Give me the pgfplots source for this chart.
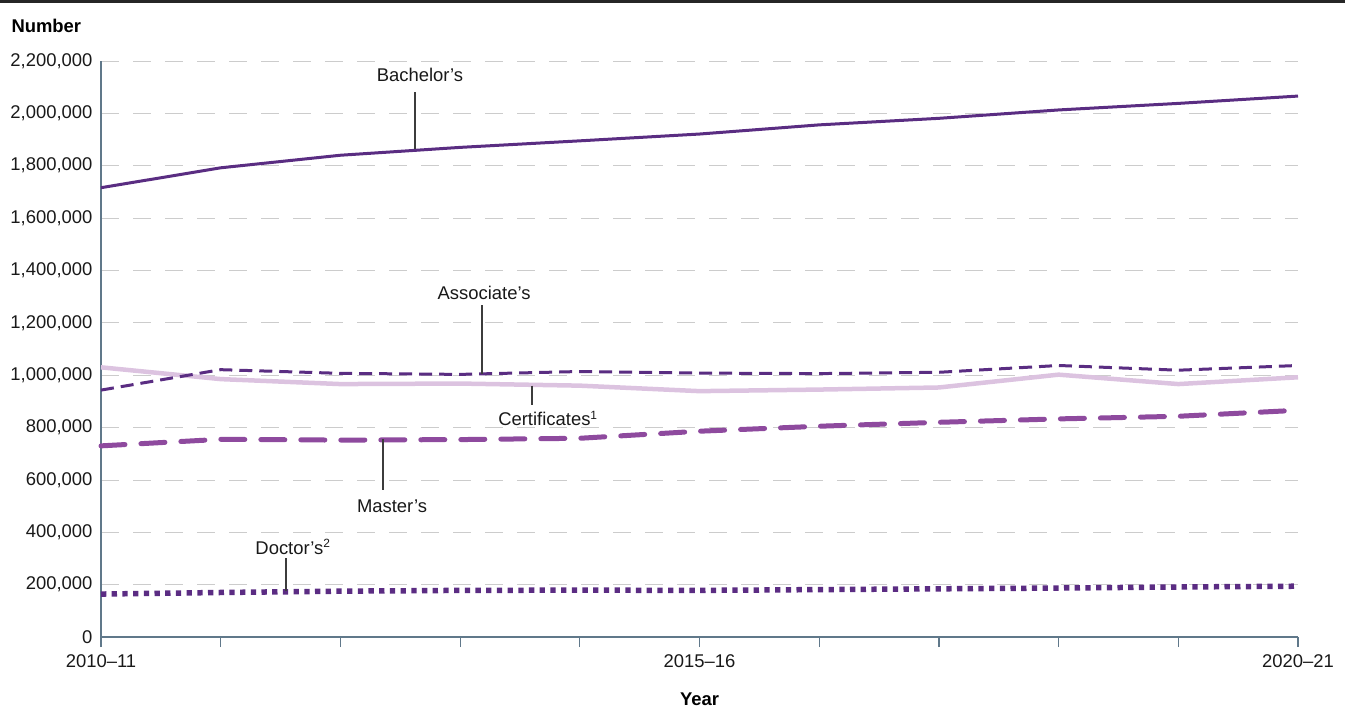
\documentclass[border=0pt]{standalone}
\usepackage{pgfplots}
\pgfplotsset{compat=1.18}
\usepackage{fontspec}
\setmainfont{Liberation Sans}
\definecolor{bach}{HTML}{5A2D82}
\definecolor{assoc}{HTML}{5A2D82}
\definecolor{cert}{HTML}{DCC3E0}
\definecolor{mast}{HTML}{8E4A9E}
\definecolor{doct}{HTML}{5B2C83}
\definecolor{axc}{HTML}{60788A}
\definecolor{gridc}{HTML}{CCCCCC}
\definecolor{lblc}{HTML}{3C3C3C}
\begin{document}
\begin{tikzpicture}[x=1bp,y=1bp]
\useasboundingbox (0,0) rectangle (1345,713);
\draw[line width=3bp, black!85] (0,711) -- (1345,711);
\node[anchor=west, font=\fontsize{18.5}{22}\selectfont\bfseries] at (8,687) {Number};
\begin{axis}[
  at={(101bp,76bp)}, anchor=south west,
  scale only axis, width=1197bp, height=576bp,
  xmin=0, xmax=10, ymin=0, ymax=2200000,
  clip=false,
  axis x line*=bottom, axis y line*=left,
  axis line style={axc, line width=1.2bp, -},
  xtick={0,1,2,3,4,5,6,7,8,9,10},
  xticklabels={2010--11,,,,,2015--16,,,,,2020--21},
  ytick={0,200000,400000,600000,800000,1000000,1200000,1400000,1600000,1800000,2000000,2200000},
  scaled y ticks=false,
  /pgf/number format/fixed,
  /pgf/number format/1000 sep={,},
  /pgf/number format/assume math mode=true,
  tick label style={font=\fontsize{18.5}{22}\selectfont, black!90},
  x tick style={axc, line width=1.2bp},
  y tick style={draw=none},
  tick align=outside,
  major tick length=10bp,
  xticklabel style={yshift=-4bp},
  yticklabel style={xshift=5bp},
  ymajorgrids,
  grid style={gridc, line width=0.8bp, dash pattern=on 18bp off 14bp},
  xlabel={\bfseries Year},
  xlabel style={font=\fontsize{18.5}{22}\selectfont, yshift=-18bp},
]
% Doctor's
\addplot[doct, line width=5.5bp, line cap=butt, dash pattern=on 5.3bp off 5.4bp] coordinates {
(0,164000) (1,170000) (2,175000) (3,178000) (4,179000) (5,178000) (6,181000) (7,184000) (8,187000) (9,191000) (10,194000)};
% Master's
\addplot[mast, line width=5bp, line cap=round, dash pattern=on 24bp off 16bp] coordinates {
(0,730000) (1,755000) (2,752000) (3,754000) (4,759000) (5,786000) (6,805000) (7,820000) (8,833000) (9,843000) (10,866000)};
% Certificates
\addplot[cert, line width=4.5bp] coordinates {
(0,1030000) (1,985000) (2,966000) (3,968000) (4,960000) (5,939000) (6,945000) (7,953000) (8,1002000) (9,966000) (10,992000)};
% Associate's
\addplot[assoc, line width=3bp, dash pattern=on 13bp off 7bp] coordinates {
(0,943000) (1,1021000) (2,1007000) (3,1003000) (4,1014000) (5,1008000) (6,1006000) (7,1011000) (8,1037000) (9,1019000) (10,1037000)};
% Bachelor's
\addplot[bach, line width=3bp] coordinates {
(0,1716000) (1,1792000) (2,1840000) (3,1870000) (4,1895000) (5,1921000) (6,1956000) (7,1981000) (8,2013000) (9,2038000) (10,2066000)};

\tikzset{lbl/.style={font=\fontsize{18.5}{22}\selectfont, text=black!90, inner sep=1bp}}
\draw[lblc, line width=1.5bp] (axis cs:2.623,2081000) -- (axis cs:2.623,1862000);
\node[lbl] at (axis cs:2.665,2146000) {Bachelor’s};
\draw[lblc, line width=1.5bp] (axis cs:3.183,1268000) -- (axis cs:3.183,1004000);
\node[lbl] at (axis cs:3.2,1314000) {Associate’s};
\draw[lblc, line width=1.5bp] (axis cs:3.60,960000) -- (axis cs:3.60,886000);
\node[lbl] at (axis cs:3.734,836000) {Certificates\textsuperscript{\fontsize{12}{14}\selectfont 1}};
\draw[lblc, line width=1.5bp] (axis cs:2.356,755000) -- (axis cs:2.356,561000);
\node[lbl] at (axis cs:2.431,500000) {Master’s};
\draw[lblc, line width=1.5bp] (axis cs:1.545,301000) -- (axis cs:1.545,176000);
\node[lbl] at (axis cs:1.604,344000) {Doctor’s\textsuperscript{\fontsize{12}{14}\selectfont 2}};
\end{axis}
\end{tikzpicture}
\end{document}
